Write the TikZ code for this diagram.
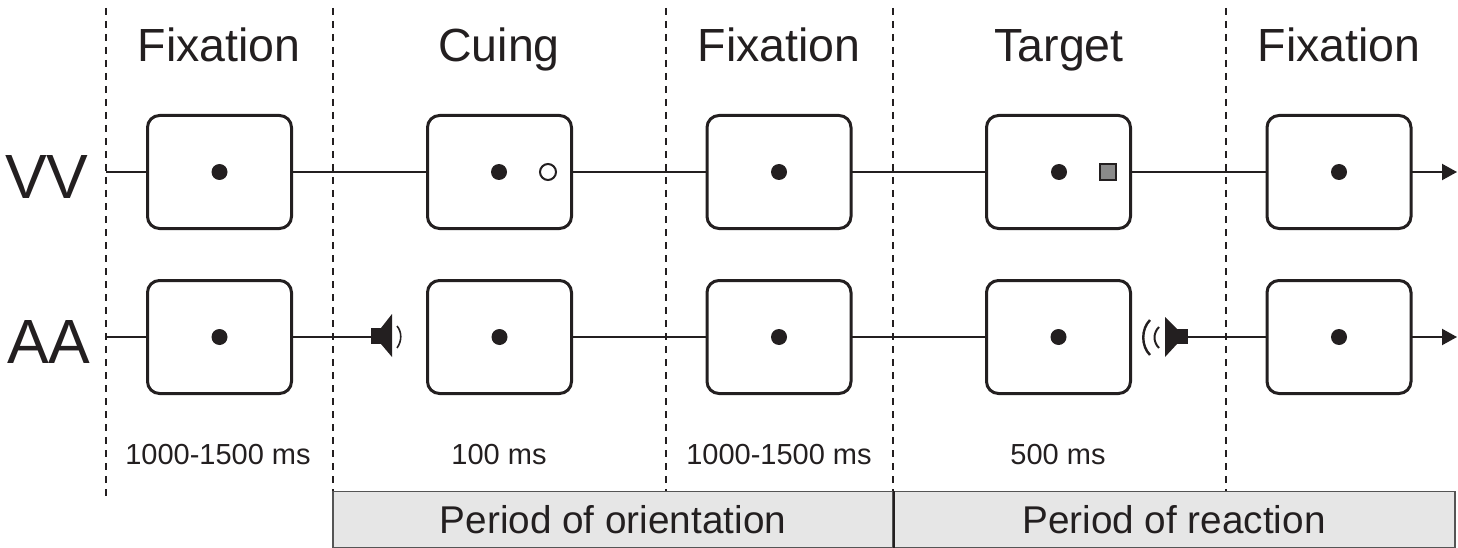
\documentclass[tikz,border=0pt]{standalone}
\usepackage{fontspec}
\setmainfont{Liberation Sans}
\usetikzlibrary{arrows.meta}
\definecolor{ink}{HTML}{231F20}
\definecolor{pgray}{HTML}{E6E6E6}
\definecolor{pedge}{HTML}{555555}
\definecolor{tgray}{HTML}{8A8A8A}
\begin{document}
\begin{tikzpicture}[x=1pt,y=-1pt,
  scrbox/.style={draw=ink, line width=3pt, rounded corners=12pt, minimum width=144pt, minimum height=113pt, inner sep=0pt, fill=white},
  tline/.style={draw=ink, line width=2pt},
  sep/.style={draw=ink, line width=1.2pt, dash pattern=on 7pt off 6pt},
  fixdot/.style={fill=ink, circle, minimum size=16pt, inner sep=0pt},
  head/.style={font=\fontsize{46.5}{52}\selectfont, text=ink, anchor=base},
  rowlab/.style={font=\fontsize{62.5}{70}\selectfont, text=ink, anchor=base},
  dur/.style={font=\fontsize{29}{34}\selectfont, text=ink, anchor=base},
  pbox/.style={draw=pedge, fill=pgray, line width=1.5pt, minimum height=56pt, inner sep=0pt, font=\fontsize{38.7}{44}\selectfont, text=ink},
  spk/.style={fill=ink, draw=none}
]
\useasboundingbox (0,0) rectangle (1458,548);

% separators
\draw[sep] (106,8) -- (106,500);
\draw[sep] (333,8) -- (333,491);
\draw[sep] (666,8) -- (666,491);
\draw[sep] (893,8) -- (893,491);
\draw[sep] (1226,8) -- (1226,491);

% headings
\node[head] (h1) at (219,62) {Fixation};
\node[head] (h2) at (499,62) {Cuing};
\node[head] (h3) at (779,62) {Fixation};
\node[head] (h4) at (1059,62) {Target};
\node[head] (h5) at (1339,62) {Fixation};

% row labels
\node[rowlab, anchor=base east] (lv) at (92,199) {VV};
\node[rowlab, anchor=base east] (la) at (94,363) {AA};

% coordinates
\coordinate (vs) at (106,172);
\coordinate (ve) at (1457,172);
\coordinate (as) at (106,337);
\coordinate (ae) at (1457,337);
\coordinate (s1) at (371,337);
\coordinate (s2) at (1188,337);

% VV row
\draw[tline] (vs) -- (219,172) -- (1339,172);
\draw[tline, -{Triangle[length=15pt,width=16pt]}] (1339,172) -- (ve);
% AA row
\draw[tline] (as) -- (s1);
\draw[tline] (499,337) -- (1059,337);
\draw[tline] (s2) -- (1339,337);
\draw[tline, -{Triangle[length=15pt,width=16pt]}] (1339,337) -- (ae);

% boxes VV
\node[scrbox] (v1) at (219.5,172) {};
\node[scrbox] (v2) at (499.5,172) {};
\node[scrbox] (v3) at (779,172) {};
\node[scrbox] (v4) at (1058.5,172) {};
\node[scrbox] (v5) at (1339,172) {};
% boxes AA
\node[scrbox] (a1) at (219.5,337) {};
\node[scrbox] (a2) at (499.5,337) {};
\node[scrbox] (a3) at (779,337) {};
\node[scrbox] (a4) at (1058.5,337) {};
\node[scrbox] (a5) at (1339,337) {};

% fixation dots
\foreach \n in {v1,a1,a2,v3,a3,a4,v5,a5}{\node[fixdot] at (\n.center) {};}
\node[fixdot] (vc2) at (499,172) {};
\node[fixdot] (vc4) at (1059,172) {};
% cue circle
\node[circle, draw=ink, line width=2pt, minimum size=16pt, inner sep=0pt, fill=white] (cue) at (548,172) {};
% target square
\node[draw=ink, fill=tgray, line width=2.2pt, minimum size=16pt, inner sep=0pt] (tgt) at (1108,172) {};

% speaker 1 (cue)
\fill[spk] (371,328) rectangle (381,344);
\fill[spk] (381,328) -- (392,314) -- (392,357) -- (381,344) -- cycle;
\draw[ink, line width=1.6pt] (397,326) .. controls (402,332) and (402,341) .. (397,348);
% speaker 2 (target)
\fill[spk] (1177,329) rectangle (1188,344);
\fill[spk] (1177,329) -- (1165,317) -- (1165,357) -- (1177,344) -- cycle;
\draw[ink, line width=2pt] (1159,327) .. controls (1153,333) and (1153,342) .. (1159,348);
\draw[ink, line width=2.4pt] (1150,320) .. controls (1141,329) and (1141,346) .. (1150,355);

% durations
\node[dur] (d1) at (218,464) {1000-1500 ms};
\node[dur] (d2) at (499,464) {100 ms};
\node[dur] (d3) at (779,464) {1000-1500 ms};
\node[dur] (d4) at (1058,464) {500 ms};

% periods
\node[pbox, minimum width=560pt] (po) at (613,519.5) {Period of orientation};
\node[pbox, minimum width=562pt] (pr) at (1174,519.5) {Period of reaction};
\draw[ink, line width=2pt] (po.north east) -- (po.south east);
\end{tikzpicture}
\end{document}
